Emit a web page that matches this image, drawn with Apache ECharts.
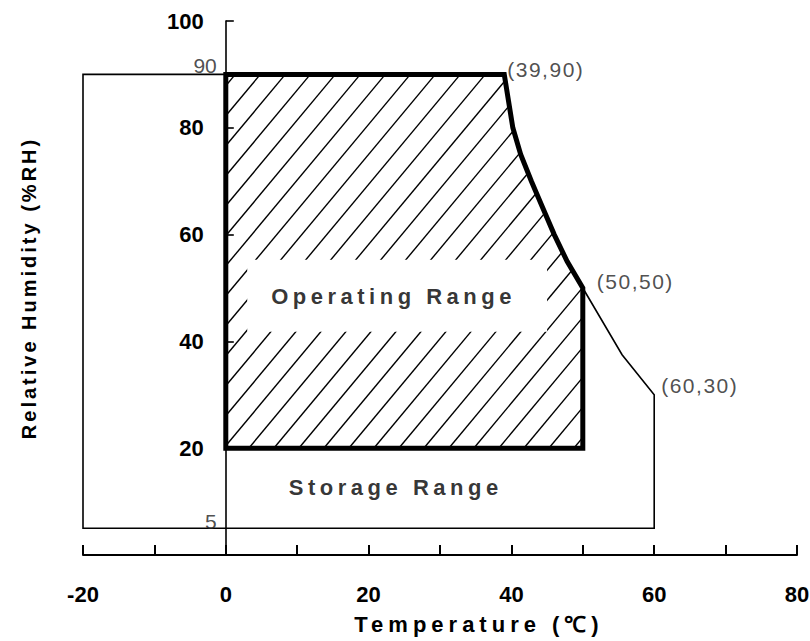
<!DOCTYPE html>
<html>
<head>
<meta charset="utf-8">
<script src="https://cdn.jsdelivr.net/npm/echarts@6/dist/echarts.min.js"></script>
<style>
  html, body { margin: 0; padding: 0; background: #fff; }
  #main { width: 810px; height: 641px; }
  text[style*="LsOp"] { letter-spacing: 4.5px; }
  text[style*="LsSt"] { letter-spacing: 4.5px; }
  text[style*="LsX"] { letter-spacing: 5px; }
  text[style*="LsY"] { letter-spacing: 3px; }
  text[style*="LsC"] { letter-spacing: 1.5px; }
</style>
</head>
<body>
<div id="main"></div>
<script>
// ---- data ----
const xTickLabels = [-20, 0, 20, 40, 60, 80];
const yTickLabels = [20, 40, 60, 80, 100];
const storageRange = [[-20, 90], [39, 90], [39.6, 85], [40.2, 80], [41.3, 75], [42.8, 70], [44.4, 65], [46, 60], [47.8, 55], [50, 50], [55.5, 37.5], [60, 30], [60, 5], [-20, 5]];
const operatingRange = [[0, 90], [39, 90], [39.6, 85], [40.2, 80], [41.3, 75], [42.8, 70], [44.4, 65], [46, 60], [47.8, 55], [50, 50], [50, 20], [0, 20]];
const cornerPoints = [[39, 90], [50, 50], [60, 30]];
const refValues = [[0, 90], [0, 5]];
const regionNames = ['Operating Range', 'Storage Range'];
const regionCenters = [[23.5, 48.5], [23.8, 12.7]];
const xName = 'Temperature (℃)';
const yName = 'Relative Humidity (%RH)';
const xMin = -20, xMax = 80;

// ---- styling helpers ----
const BOLD = '"Liberation Sans", Arial, sans-serif';
const cornerOffsets = [[0, -5], [11, -7], [4, -9]];
const refOffsets = [[0, -9], [0, -7]];
const regionFonts = ['LsOp, "Liberation Sans", Arial, sans-serif', 'LsSt, "Liberation Sans", Arial, sans-serif'];
const GRID_L = 83, GRID_R = 13, W = 810;
// shift the y axis so that it sits at temperature 0
const yAxisShift = -((W - GRID_L - GRID_R) * (0 - xMin) / (xMax - xMin));

function hatchSegments(P, k, step, anchor) {
  const bs = P.map(p => p[1] + k * p[0]);
  const bmin = Math.min(...bs), bmax = Math.max(...bs);
  const start = anchor + Math.ceil((bmin - anchor) / step) * step;
  const segs = [];
  for (let b = start; b <= bmax; b += step) {
    const xs = [];
    for (let i = 0; i < P.length; i++) {
      const a = P[i], c = P[(i + 1) % P.length];
      const fa = a[1] + k * a[0] - b, fc = c[1] + k * c[0] - b;
      if ((fa < 0) !== (fc < 0)) {
        const t = fa / (fa - fc);
        xs.push(a[0] + t * (c[0] - a[0]));
      }
    }
    xs.sort((m, n) => m - n);
    for (let j = 0; j + 1 < xs.length; j += 2) {
      segs.push([xs[j], b - k * xs[j], xs[j + 1], b - k * xs[j + 1]]);
    }
  }
  return segs;
}

const chart = echarts.init(document.getElementById('main'), null, { renderer: 'svg' });

const option = {
  animation: false,
  backgroundColor: '#fff',
  grid: { left: GRID_L, right: GRID_R, top: 21, bottom: 86, containLabel: false, outerBoundsMode: 'none' },
  xAxis: {
    type: 'value', min: xMin, max: xMax, interval: 10,
    splitLine: { show: false },
    axisLine: { onZero: false, lineStyle: { color: '#000', width: 2 } },
    axisTick: { inside: true, length: 10, lineStyle: { color: '#000', width: 2 } },
    axisLabel: {
      margin: 28, color: '#000', fontSize: 22, fontWeight: 'bold', fontFamily: BOLD,
      formatter: v => xTickLabels.includes(v) ? String(v) : ''
    },
    name: xName, nameLocation: 'middle', nameGap: 58,
    nameTextStyle: { color: '#000', fontSize: 22, fontWeight: 'bold', fontFamily: 'LsX, "Liberation Sans", Arial, sans-serif', padding: [0, 0, 0, 78] }
  },
  yAxis: {
    type: 'value', min: 0, max: 100, interval: 20,
    offset: yAxisShift,
    splitLine: { show: false },
    axisLine: { onZero: false, lineStyle: { color: '#000', width: 1.6 } },
    axisTick: { inside: true, length: 8, lineStyle: { color: '#000', width: 1.6 } },
    axisLabel: {
      margin: 22, color: '#000', fontSize: 22, fontWeight: 'bold', fontFamily: BOLD,
      formatter: v => yTickLabels.includes(v) ? String(v) : ''
    },
    name: yName, nameLocation: 'middle', nameGap: 187,
    nameTextStyle: { color: '#000', fontSize: 20, fontWeight: 'bold', fontFamily: 'LsY, "Liberation Sans", Arial, sans-serif' }
  },
  series: [
    {
      type: 'custom', z: 2, silent: true, clip: false,
      data: [storageRange[0]],
      renderItem: function (params, api) {
        const S = storageRange.map(p => api.coord(p));
        const O = operatingRange.map(p => api.coord(p));
        const k = 1.2, step = 30;
        const c0 = api.coord([0, 20]);
        const anchor = c0[1] + k * (c0[0] + 23);
        const segs = hatchSegments(O, k, step, anchor);
        const bandA = api.coord([3, 55.3]);
        const bandB = api.coord([45, 41.8]);
        const children = [];
        children.push({ type: 'polygon', shape: { points: S }, style: { fill: 'none', stroke: '#000', lineWidth: 1.6 } });
        segs.forEach(s => children.push({ type: 'line', shape: { x1: s[0], y1: s[1], x2: s[2], y2: s[3] }, style: { stroke: '#000', lineWidth: 1.4 } }));
        children.push({ type: 'rect', shape: { x: bandA[0], y: bandA[1], width: bandB[0] - bandA[0], height: bandB[1] - bandA[1] }, style: { fill: '#fff' } });
        children.push({ type: 'polygon', shape: { points: O }, style: { fill: 'none', stroke: '#000', lineWidth: 5, lineJoin: 'miter' } });
        return { type: 'group', children: children };
      }
    },
    {
      type: 'scatter', z: 5, silent: true, symbolSize: 0,
      data: cornerPoints.map((p, i) => ({ value: p, label: { offset: cornerOffsets[i] } })),
      label: {
        show: true, position: 'right', distance: 3, color: '#222', fontSize: 21,
        fontFamily: 'LsC, "Liberation Sans", Arial, sans-serif',
        formatter: p => '(' + p.value[0] + ',' + p.value[1] + ')'
      }
    },
    {
      type: 'scatter', z: 5, silent: true, symbolSize: 0,
      data: refValues.map((p, i) => ({ value: p, label: { offset: refOffsets[i] } })),
      label: {
        show: true, position: 'left', distance: 9, color: '#222', fontSize: 21,
        fontFamily: '"Liberation Sans", Arial, sans-serif',
        formatter: p => String(p.value[1])
      }
    },
    {
      type: 'scatter', z: 5, silent: true, symbolSize: 0,
      data: regionCenters.map((p, i) => ({ value: p, name: regionNames[i], label: { fontFamily: regionFonts[i] } })),
      label: {
        show: true, position: 'inside', color: '#000', fontSize: 22, fontWeight: 'bold',
        formatter: p => p.name
      }
    }
  ]
};
chart.setOption(option);
</script>
</body>
</html>
